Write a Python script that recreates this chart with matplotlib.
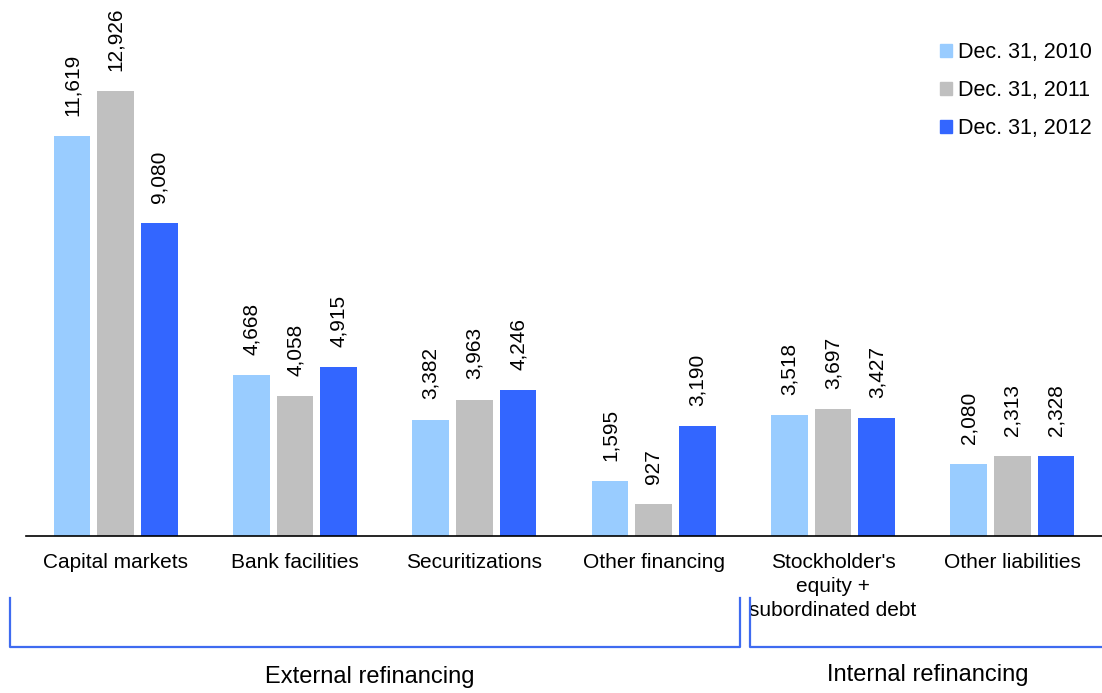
import matplotlib
matplotlib.use("Agg")
import matplotlib.pyplot as plt
from matplotlib.lines import Line2D
from matplotlib.patches import Patch
import numpy as np

plt.rcParams['font.family'] = ['Liberation Sans', 'DejaVu Sans']

categories = ["Capital markets", "Bank facilities", "Securitizations",
              "Other financing", "Stockholder's\nequity +\nsubordinated debt",
              "Other liabilities"]
series_names = ["Dec. 31, 2010", "Dec. 31, 2011", "Dec. 31, 2012"]
vals_2010 = [11619, 4668, 3382, 1595, 3518, 2080]
vals_2011 = [12926, 4058, 3963, 927, 3697, 2313]
vals_2012 = [9080, 4915, 4246, 3190, 3427, 2328]
colors = ["#99ccff", "#c0c0c0", "#3366ff"]
bracket_color = "#3f6bf0"

W, H = 1102, 693
fig = plt.figure(figsize=(W / 100, H / 100), dpi=100)
ax = fig.add_axes([26 / W, 157 / H, (W - 26) / W, (H - 157) / H])

x = np.arange(len(categories))
width = 0.205
step = 0.244
for i, (vals, name, c) in enumerate(zip([vals_2010, vals_2011, vals_2012], series_names, colors)):
    bars = ax.bar(x + (i - 1) * step, vals, width, color=c, label=name)
    for b, v in zip(bars, vals):
        ax.annotate(f"{v:,}", (b.get_x() + b.get_width() / 2, v),
                    xytext=(0, 14.5), textcoords="offset points",
                    rotation=90, ha="center", va="bottom", fontsize=15)

ax.set_xlim(-0.5, len(categories) - 0.5)
ax.set_ylim(0, 15568)
for s in ["top", "right", "left"]:
    ax.spines[s].set_visible(False)
ax.spines["bottom"].set_linewidth(1.2)
ax.set_yticks([])
ax.set_xticks(x)
ax.set_xticklabels(categories, fontsize=15, linespacing=1.35, va="top")
ax.tick_params(axis="x", length=0, pad=12)

handles = [Patch(color=c) for c in colors]
ax.legend(handles, series_names, loc="upper right", bbox_to_anchor=(1.003, 0.946),
          frameon=False, fontsize=15.5, handlelength=0.55, handleheight=0.55,
          handletextpad=0.3, labelspacing=0.8, borderaxespad=0.2)

def px(xp, yp):
    return xp / W, 1 - yp / H

# group brackets under the categories
for x0, x1 in [(10, 740), (750, W - 1)]:
    pts = [px(x0, 598), px(x0, 647), px(x1, 647)]
    if x1 < W - 1:
        pts.append(px(x1, 598))
    xs, ys = zip(*pts)
    fig.add_artist(Line2D(xs, ys, color=bracket_color, lw=1.6))

fig.text(*px(370, 677), "External refinancing", ha="center", va="center", fontsize=17)
fig.text(*px(928, 675), "Internal refinancing", ha="center", va="center", fontsize=17)

fig.savefig("out.png", dpi=100)
